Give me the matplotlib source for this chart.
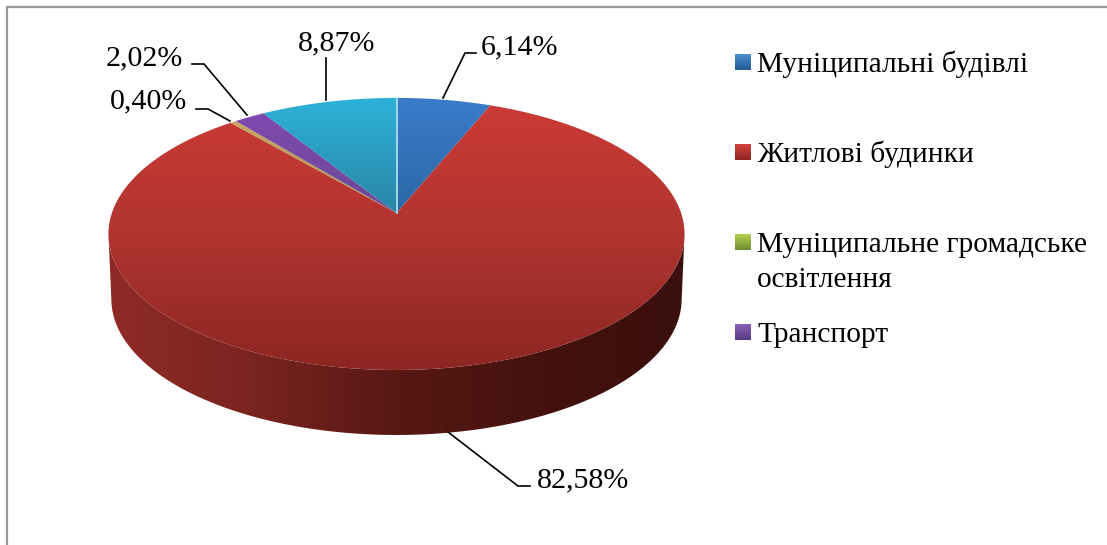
import numpy as np
import matplotlib
matplotlib.use("Agg")
import matplotlib.pyplot as plt
from matplotlib.colors import LinearSegmentedColormap
from matplotlib.patches import Polygon

# Values, clockwise from the top of the pie
shares = [6.14, 82.58, 0.40, 2.02, 8.87]
share_labels = ["6,14%", "82,58%", "0,40%", "2,02%", "8,87%"]
legend_labels = ["Муніципальні будівлі", "Житлові будинки",
                 "Муніципальне громадське\nосвітлення", "Транспорт"]

# Gradient of each slice, top to bottom
slice_colors = [("#3b7ccb", "#2c68a6"), ("#cb3a36", "#8c2622"), ("#c8a860", "#a89048"),
                ("#8048b0", "#6a4a96"), ("#2db2da", "#2a86a6")]
legend_colors = [("#4a90d0", "#235a94"), ("#d8433f", "#8c2622"),
                 ("#b4d050", "#6f8a30"), ("#8a62b8", "#553a80")]

# Pie geometry in image pixels
CX, CY = 396.5, 213
A, B, K = 284.6, 132.8, 0.154
DEPTH = 65

plt.rcParams["font.family"] = ["Liberation Serif", "DejaVu Serif"]


def disc_to_screen(theta):
    """Project an angle on the disc (0 = up, clockwise) into pixels, with perspective."""
    u, v = np.sin(theta), np.cos(theta)
    w = 1 + K * v
    return CX + A * u / w, CY - B * v / w


def gradient_fill(ax, verts, colors, vertical=True):
    """Fill a polygon with a linear gradient."""
    poly = Polygon(verts, closed=True, transform=ax.transData)
    xs, ys = verts[:, 0], verts[:, 1]
    cmap = LinearSegmentedColormap.from_list("g", colors)
    grad = np.linspace(0, 1, 256)
    grad = grad[:, None] if vertical else grad[None, :]
    im = ax.imshow(grad, cmap=cmap, aspect="auto", interpolation="bilinear",
                   extent=[xs.min(), xs.max(), ys.max(), ys.min()])
    im.set_clip_path(poly)


fig = plt.figure(figsize=(11.07, 5.45), dpi=100)
ax = fig.add_axes([0, 0, 1, 1])

# Side wall, only the front part shows
t = np.linspace(0, 2 * np.pi, 721)
x, y = disc_to_screen(t)
right, left = np.argmax(x), np.argmin(x)
front_x, front_y = x[right:left + 1], y[right:left + 1]
side = np.vstack([np.column_stack([front_x, front_y]),
                  np.column_stack([CX + (front_x - CX) * 0.99, front_y + DEPTH])[::-1]])
gradient_fill(ax, side, ["#3a0f0c", "#45120e", "#571814", "#7a2420", "#8f2b26"][::-1], vertical=False)

# Top face, all slices share the vertical extent of the disc
total = sum(shares)
angles = 2 * np.pi * np.cumsum([0] + shares) / total
for i, share in enumerate(shares):
    tt = np.linspace(angles[i], angles[i + 1], max(int(share * 8), 4))
    sx, sy = disc_to_screen(tt)
    verts = np.column_stack([np.r_[CX, sx], np.r_[CY, sy]])
    top, bottom = slice_colors[i]
    if share > 50:
        gradient_fill(ax, verts, [top, "#b03430", bottom])
    else:
        gradient_fill(ax, verts, [top, bottom])

sx, sy = disc_to_screen(np.array([0.0]))
ax.plot([CX, sx[0]], [CY, sy[0]], color="#a4dcec", lw=1.3)

# Leader lines
leaders = [([443, 465, 476], [98, 53, 53]),
           ([448, 518, 530], [432, 486, 486]),
           ([230, 208, 196], [121, 109, 109]),
           ([247, 204, 192], [115, 64, 64]),
           ([326, 326], [100, 58])]
label_pos = [(481, 54), (537, 487), (110, 108), (106, 65), (298, 50)]
for (lx, ly), label, (tx, ty) in zip(leaders, share_labels, label_pos):
    ax.plot(lx, ly, color="black", lw=1.2, solid_joinstyle="miter")
    ax.text(tx, ty, label, fontsize=21.6, color="black", va="baseline", ha="left")

# Legend, drawn by hand because the entries are spaced unevenly
legend_y = [72, 162, 252, 342]
for label, (c1, c2), ly in zip(legend_labels, legend_colors, legend_y):
    box = np.array([[735, ly - 18], [751, ly - 18], [751, ly - 2], [735, ly - 2]], dtype=float)
    gradient_fill(ax, box, [c1, c2])
    for n, line in enumerate(label.split("\n")):
        ax.text(757, ly + n * 35, line, fontsize=21.2, color="black", va="baseline", ha="left")

# Grey frame, cropped on the right and at the bottom
ax.plot([7, 7, 1107], [545, 6.5, 6.5], color="#999999", lw=1.6, solid_joinstyle="miter")

ax.set_xlim(0, 1107)
ax.set_ylim(545, 0)
ax.axis("off")
fig.savefig("out.png", dpi=100)
